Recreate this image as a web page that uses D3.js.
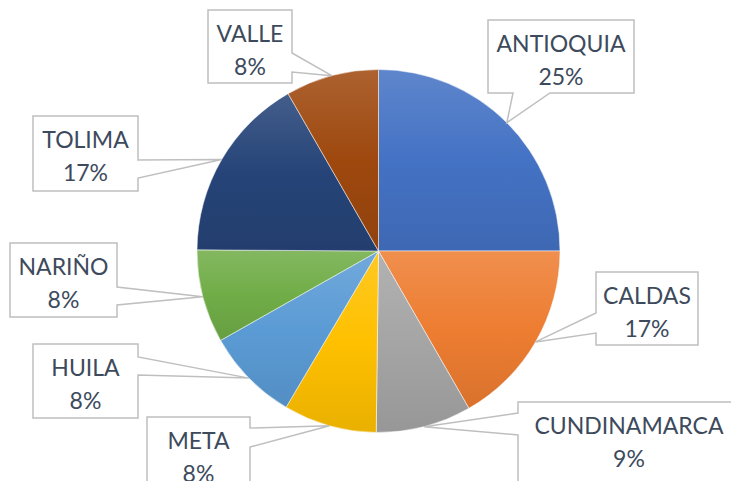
<!DOCTYPE html>
<html>
<head>
<meta charset="utf-8">
<title>Pie</title>
<script src="https://d3js.org/d3.v7.min.js"></script>
<style>
  html, body { margin: 0; padding: 0; background: #fff; }
  svg { display: block; }
  .lbl { font-family: Lato, "Open Sans", sans-serif; font-size: 23px; fill: #3d4a5c; text-anchor: middle; dominant-baseline: central; }
</style>
</head>
<body>
<svg id="chart" width="731" height="481"></svg>
<script>
// data
var categories = ["ANTIOQUIA", "CALDAS", "CUNDINAMARCA", "META", "HUILA", "NARIÑO", "TOLIMA", "VALLE"];
var values = [25, 16.7, 8.5, 8.3, 8.3, 8.3, 16.6, 8.3];
var colors = ["#4472C4", "#ED7D31", "#A5A5A5", "#FFC000", "#5B9BD5", "#70AD47", "#264478", "#9E480E"];

// callout boxes: [x0, y0, x1, y1], tail side and tail range on that side
var boxes = [
  { b: [488, 20, 634, 93], side: "bottom", t: [513, 550] },
  { b: [596, 272, 698, 345], side: "left", t: [313, 333] },
  { b: [518, 402, 740, 490], side: "left", t: [413, 435] },
  { b: [147, 417, 250, 500], side: "right", t: [428, 447] },
  { b: [33, 344, 138, 418], side: "right", t: [357, 375] },
  { b: [10, 243, 117, 317], side: "right", t: [287, 305] },
  { b: [33, 116, 138, 191], side: "right", t: [160, 178] },
  { b: [208, 10, 292, 83], side: "right", t: [53, 72] }
];

var svg = d3.select("#chart");
var cx = 378.5, cy = 251, r = 181.5;

var pie = d3.pie().sort(null).value(function (d) { return d; });
var arcs = pie(values);
var arc = d3.arc().innerRadius(0).outerRadius(r);

var defs = svg.append("defs");
colors.forEach(function (c, i) {
  var g = defs.append("linearGradient").attr("id", "g" + i)
    .attr("x1", 0).attr("y1", 0).attr("x2", 0).attr("y2", 1);
  g.append("stop").attr("offset", 0).attr("stop-color", d3.interpolateRgb(c, "#fff")(0.14));
  g.append("stop").attr("offset", 0.5).attr("stop-color", c);
  g.append("stop").attr("offset", 1).attr("stop-color", d3.color(c).darker(0.25));
});

var g = svg.append("g").attr("transform", "translate(" + cx + "," + cy + ")");
g.selectAll("path").data(arcs).enter().append("path")
  .attr("d", arc)
  .attr("fill", function (d, i) { return "url(#g" + i + ")"; })
  .attr("stroke", "#fff").attr("stroke-width", 0.5);

// callouts
function calloutPath(bx, ax, ay) {
  var x0 = bx.b[0], y0 = bx.b[1], x1 = bx.b[2], y1 = bx.b[3], t = bx.t;
  var p = "M" + x0 + "," + y0 + "H" + x1;
  if (bx.side === "right") p += "V" + t[0] + "L" + ax + "," + ay + "L" + x1 + "," + t[1];
  p += "V" + y1;
  if (bx.side === "bottom") p += "H" + t[1] + "L" + ax + "," + ay + "L" + t[0] + "," + y1;
  p += "H" + x0;
  if (bx.side === "left") p += "V" + t[1] + "L" + ax + "," + ay + "L" + x0 + "," + t[0];
  return p + "Z";
}

arcs.forEach(function (d, i) {
  var a = (d.startAngle + d.endAngle) / 2;
  var ax = cx + r * Math.sin(a), ay = cy - r * Math.cos(a);
  var bx = boxes[i];
  svg.append("path").attr("d", calloutPath(bx, ax, ay))
    .attr("fill", "#fff").attr("stroke", "#BFBFBF").attr("stroke-width", 1.5)
    .attr("stroke-linejoin", "miter");
  var mx = (bx.b[0] + bx.b[2]) / 2;
  svg.append("text").attr("class", "lbl").attr("x", mx).attr("y", bx.b[1] + 23).text(categories[i]);
  svg.append("text").attr("class", "lbl").attr("x", mx).attr("y", bx.b[1] + 56).text(Math.round(d.data) + "%");
});
</script>
</body>
</html>
